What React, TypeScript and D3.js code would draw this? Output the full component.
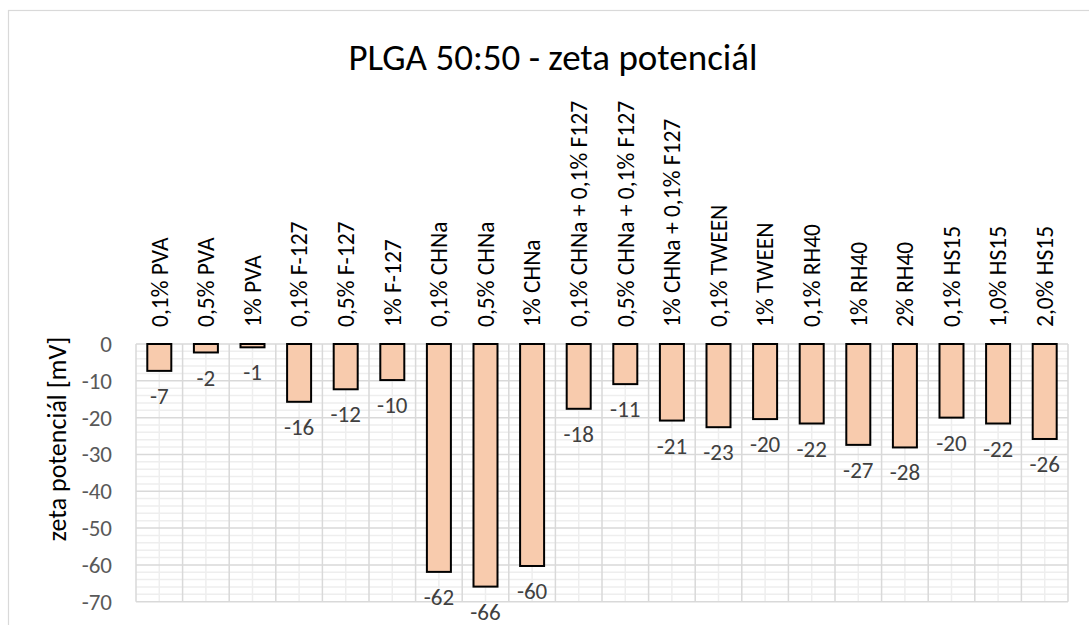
import React from "react";
import * as d3 from "d3";

const categories: string[] = [
  "0,1% PVA",
  "0,5% PVA",
  "1% PVA",
  "0,1% F-127",
  "0,5% F-127",
  "1% F-127",
  "0,1% CHNa",
  "0,5% CHNa",
  "1% CHNa",
  "0,1% CHNa + 0,1% F127",
  "0,5% CHNa + 0,1% F127",
  "1% CHNa + 0,1% F127",
  "0,1% TWEEN",
  "1% TWEEN",
  "0,1% RH40",
  "1% RH40",
  "2% RH40",
  "0,1% HS15",
  "1,0% HS15",
  "2,0% HS15",
];

const zetaValues: number[] = [
  -7.3, -2.3, -0.9, -15.7, -12.3, -9.8, -61.9, -65.9, -60.3, -17.6, -10.9,
  -20.8, -22.6, -20.4, -21.6, -27.4, -28.1, -20.0, -21.6, -25.8,
];

const yTicks: number[] = [0, -10, -20, -30, -40, -50, -60, -70];

const title = "PLGA 50:50 - zeta potenciál";
const yAxisTitle = "zeta potenciál [mV]";

const FONT = "Carlito, Calibri, Lato, sans-serif";

export default function App() {
  const W = 1089;
  const H = 625;
  const plotLeft = 136;
  const plotRight = 1068;
  const plotTop = 344;
  const plotBottom = 601.7;

  const x = d3
    .scaleBand<string>()
    .domain(categories)
    .range([plotLeft, plotRight])
    .paddingInner(0.485)
    .paddingOuter(0.2425);

  const y = d3.scaleLinear().domain([-70, 0]).range([plotBottom, plotTop]);

  const step = x.step();
  const minorY = d3.range(0, -70.001, -2).filter((v) => Math.abs(v % 10) > 0.01);
  const boundaries = d3.range(categories.length + 1).map((i) => plotLeft + i * step);

  return (
    <svg
      width={W}
      height={H}
      style={{ position: "absolute", left: 0, top: 0 }}
      fontFamily={FONT}
    >
      <rect x={0} y={0} width={W} height={H} fill="#ffffff" />
      <rect
        x={8.5}
        y={10.5}
        width={W + 20}
        height={H + 20}
        fill="#ffffff"
        stroke="#d9d9d9"
        strokeWidth={1.2}
      />
      <text
        x={553}
        y={57}
        textAnchor="middle"
        dy="0.35em"
        fontSize={37}
        fill="#000000"
      >
        {title}
      </text>

      {/* minor gridlines */}
      <g stroke="#eeeeee" strokeWidth={1.5}>
        {minorY.map((v) => (
          <line key={"mh" + v} x1={plotLeft} x2={plotRight} y1={y(v)} y2={y(v)} />
        ))}
        {categories.map((c) => {
          const cx = (x(c) as number) + x.bandwidth() / 2;
          return <line key={"mv" + c} x1={cx} x2={cx} y1={plotTop} y2={plotBottom} />;
        })}
      </g>
      {/* major gridlines */}
      <g stroke="#d9d9d9" strokeWidth={1.5}>
        {yTicks.map((v) => (
          <line key={"h" + v} x1={plotLeft} x2={plotRight} y1={y(v)} y2={y(v)} />
        ))}
        {boundaries.map((bx, i) => (
          <line key={"v" + i} x1={bx} x2={bx} y1={plotTop} y2={plotBottom} />
        ))}
      </g>

      {/* y tick labels */}
      {yTicks.map((v) => (
        <text
          key={"t" + v}
          x={112}
          y={y(v)}
          dy="0.35em"
          textAnchor="end"
          fontSize={23}
          fill="#595959"
        >
          {v}
        </text>
      ))}

      {/* y axis title */}
      <text
        transform={`translate(57,439) rotate(-90)`}
        textAnchor="middle"
        dy="0.35em"
        fontSize={26}
        fill="#000000"
      >
        {yAxisTitle}
      </text>

      {/* bars */}
      {categories.map((c, i) => {
        const v = zetaValues[i];
        const x0 = x(c) as number;
        return (
          <rect
            key={"b" + c}
            x={x0}
            y={y(0)}
            width={x.bandwidth()}
            height={y(v) - y(0)}
            fill="#f8cbad"
            stroke="#000000"
            strokeWidth={2}
          />
        );
      })}

      {/* data labels */}
      {categories.map((c, i) => {
        const v = zetaValues[i];
        const cx = (x(c) as number) + x.bandwidth() / 2;
        return (
          <text
            key={"l" + c}
            x={cx}
            y={y(v) + 25}
            dy="0.35em"
            textAnchor="middle"
            fontSize={23}
            fill="#404040"
          >
            {Math.round(v)}
          </text>
        );
      })}

      {/* category labels */}
      {categories.map((c) => {
        const cx = (x(c) as number) + x.bandwidth() / 2;
        return (
          <text
            key={"c" + c}
            transform={`translate(${cx},327) rotate(-90)`}
            dy="0.35em"
            textAnchor="start"
            fontSize={23.5}
            fill="#000000"
          >
            {c}
          </text>
        );
      })}
    </svg>
  );
}
